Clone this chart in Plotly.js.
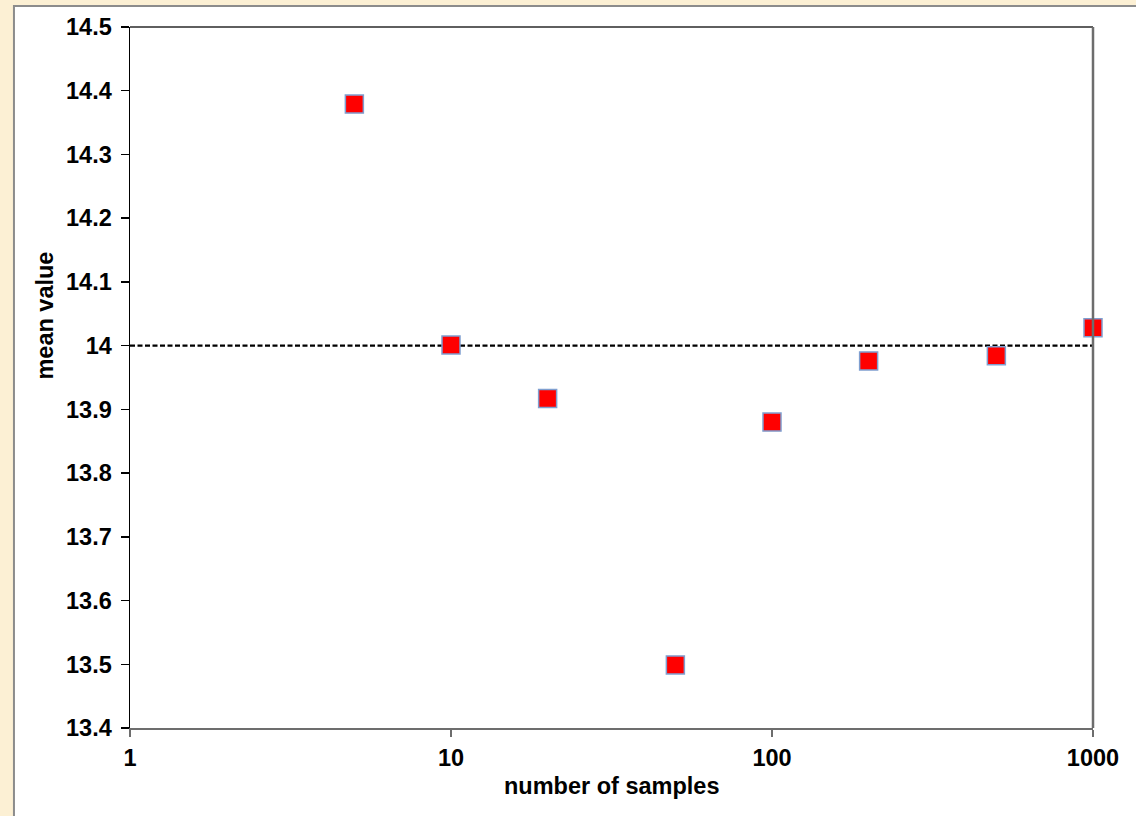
<!DOCTYPE html>
<html>
<head>
<meta charset="utf-8">
<script src="https://cdn.plot.ly/plotly-3.0.1.min.js"></script>
<style>html,body{margin:0;padding:0;background:#fcf0d4;}</style>
</head>
<body>
<div id="chart" style="width:1136px;height:816px;"></div>
<script>
// Data
var sampleCounts = [5, 10, 20, 50, 100, 200, 500, 1000];
var meanValues = [14.379, 14.001, 13.917, 13.499, 13.880, 13.976, 13.984, 14.028];
var referenceX = [1, 1000];
var referenceY = [14, 14];
var xTickVals = [1, 10, 100, 1000];
var xTickText = ["1", "10", "100", "1000"];
var xTitle = "number of samples";
var yTitle = "mean value";

var boldFont = {family: "Liberation Sans, Arial, sans-serif", size: 23.5, color: "#000000", weight: 700};

var traces = [
  {
    x: referenceX, y: referenceY, type: "scatter", mode: "lines",
    line: {color: "#000000", width: 2.2, dash: "5px,2.5px"},
    hoverinfo: "skip", showlegend: false
  },
  {
    x: sampleCounts, y: meanValues, type: "scatter", mode: "markers",
    marker: {symbol: "square", size: 18, color: "#ff0000", line: {color: "#7f9fd0", width: 1.5}},
    showlegend: false, cliponaxis: false
  }
];

var layout = {
  width: 1136, height: 816,
  margin: {l: 130, r: 43, t: 27, b: 88, pad: 0},
  paper_bgcolor: "#fcf0d4",
  plot_bgcolor: "#ffffff",
  showlegend: false,
  font: boldFont,
  xaxis: {
    type: "log", range: [0, 3],
    tickvals: xTickVals, ticktext: xTickText,
    ticks: "outside", ticklen: 7, tickcolor: "#6d6d6d", tickwidth: 1.5,
    showline: true, linecolor: "#6d6d6d", linewidth: 2, mirror: false,
    showgrid: false, zeroline: false,
    tickfont: boldFont, ticklabelstandoff: 1
  },
  yaxis: {
    range: [13.4, 14.5], dtick: 0.1, tick0: 13.4,
    ticks: "outside", ticklen: 8, tickcolor: "#000000", tickwidth: 1.5,
    showline: true, linecolor: "#000000", linewidth: 1.5, mirror: false,
    showgrid: false, zeroline: false,
    tickfont: boldFont, ticklabelstandoff: 4
  },
  shapes: [
    {type: "rect", xref: "paper", yref: "paper", x0: -0.1205, x1: 1.2, y0: -0.3, y1: 1.030,
     fillcolor: "#ffffff", line: {color: "#8c8c8c", width: 2}, layer: "below"},
    {type: "line", xref: "paper", yref: "paper", x0: 0, x1: 1, y0: 1, y1: 1,
     line: {color: "#2a2a2a", width: 1.5}},
    {type: "line", xref: "paper", yref: "paper", x0: 1, x1: 1, y0: 0, y1: 1,
     line: {color: "#6d6d6d", width: 2.5}}
  ],
  annotations: [
    {text: xTitle, xref: "paper", yref: "paper", x: 0.5, y: -0.083, xanchor: "center", yanchor: "middle",
     showarrow: false, font: boldFont},
    {text: yTitle, xref: "paper", yref: "paper", x: -0.0885, y: 0.588, xanchor: "center", yanchor: "middle",
     textangle: -90, showarrow: false, font: boldFont}
  ]
};

Plotly.newPlot("chart", traces, layout, {displayModeBar: false, staticPlot: true});
</script>
</body>
</html>
